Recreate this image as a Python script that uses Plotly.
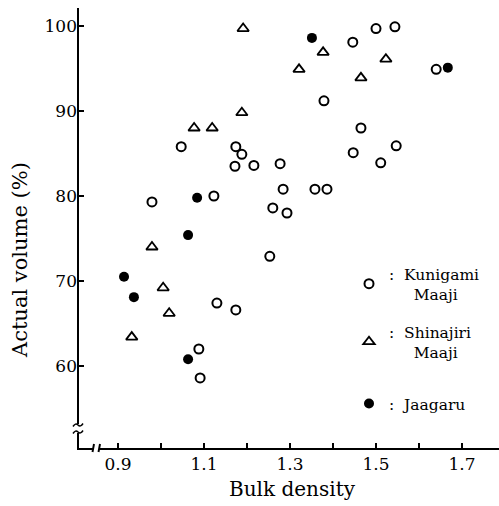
import plotly.graph_objects as go

# ---- data ----
kunigami_x = [1.047, 1.174, 1.188, 1.172, 1.216, 0.979, 1.123, 1.500, 1.544, 1.446,
              1.640, 1.379, 1.465, 1.547, 1.447, 1.511, 1.277, 1.284, 1.358, 1.386,
              1.260, 1.293, 1.253, 1.130, 1.174, 1.088, 1.091]
kunigami_y = [85.8, 85.8, 84.9, 83.5, 83.6, 79.3, 80.0, 99.7, 99.9, 98.1,
              94.9, 91.2, 88.0, 85.9, 85.1, 83.9, 83.8, 80.8, 80.8, 80.8,
              78.6, 78.0, 72.9, 67.4, 66.6, 62.0, 58.6]

shinajiri_x = [1.191, 1.188, 1.077, 1.119, 0.979, 1.377, 1.321, 1.523, 1.465, 1.005, 1.019, 0.932]
shinajiri_y = [99.7, 89.8, 88.0, 88.0, 74.0, 96.9, 94.9, 96.1, 93.9, 69.2, 66.2, 63.4]

jaagaru_x = [1.351, 1.667, 1.084, 1.063, 0.914, 0.937, 1.063]
jaagaru_y = [98.6, 95.1, 79.8, 75.4, 70.5, 68.1, 60.8]

x_tickvals = [0.9, 1.0, 1.1, 1.2, 1.3, 1.4, 1.5, 1.6, 1.7]
x_ticktext = ["0.9", "", "1.1", "", "1.3", "", "1.5", "", "1.7"]
y_tickvals = [60, 70, 80, 90, 100]

FONT = "DejaVu Serif"
W, H = 499, 506
ML, MT, MR, MB = 78, 8, 0, 57
PW, PH = W - ML - MR, H - MT - MB

def P(px, py):
    return (px - ML) / PW, (H - MB - py) / PH

fig = go.Figure()
fig.add_trace(go.Scatter(
    x=kunigami_x, y=kunigami_y, mode="markers",
    name=":&nbsp;&nbsp;Kunigami<br>&nbsp;&nbsp;&nbsp;&nbsp;&nbsp;Maaji", legend="legend",
    marker=dict(symbol="circle-open", size=9, color="black", line=dict(width=2, color="black")),
))
fig.add_trace(go.Scatter(
    x=shinajiri_x, y=shinajiri_y, mode="markers",
    name=":&nbsp;&nbsp;Shinajiri<br>&nbsp;&nbsp;&nbsp;&nbsp;&nbsp;Maaji", legend="legend2",
    marker=dict(symbol="triangle-up-open", size=10, color="black", line=dict(width=1.8, color="black")),
))
fig.add_trace(go.Scatter(
    x=jaagaru_x, y=jaagaru_y, mode="markers",
    name=":&nbsp;&nbsp;Jaagaru", legend="legend3",
    marker=dict(symbol="circle", size=10, color="black"),
))

# axis lines with break marks
shapes = []
def seg(a, b):
    (x0, y0), (x1, y1) = P(*a), P(*b)
    shapes.append(dict(type="line", xref="paper", yref="paper", x0=x0, y0=y0, x1=x1, y1=y1,
                       line=dict(color="black", width=2)))

def tilde(px, py):
    pts = [P(px - 5, py + 1.5), P(px - 2.5, py - 2.5), P(px, py), P(px + 2.5, py + 2.5), P(px + 5, py - 1.5)]
    path = "M{},{} Q{},{} {},{} Q{},{} {},{}".format(
        pts[0][0], pts[0][1], pts[1][0], pts[1][1], pts[2][0], pts[2][1],
        pts[3][0], pts[3][1], pts[4][0], pts[4][1])
    shapes.append(dict(type="path", xref="paper", yref="paper", path=path,
                       line=dict(color="black", width=1.5)))

seg((78, 8), (78, 424))
tilde(78, 425)
tilde(78, 432)
seg((78, 433), (78, 449))
seg((77, 449), (93, 449))
seg((92.5, 452), (94, 444))
seg((98.5, 452), (100, 444))
seg((99, 449), (499, 449))

legend_common = dict(xanchor="left", yanchor="top", bgcolor="rgba(0,0,0,0)",
                     font=dict(family=FONT, size=15.5, color="black"),
                     itemwidth=30, valign="middle")

fig.update_layout(
    width=W, height=H,
    margin=dict(l=ML, r=MR, t=MT, b=MB, pad=0),
    paper_bgcolor="white", plot_bgcolor="white",
    font=dict(family=FONT, color="black", size=17),
    shapes=shapes,
    showlegend=True,
    legend=dict(x=P(349, 0)[0], y=P(0, 257)[1], **legend_common),
    legend2=dict(x=P(349, 0)[0], y=P(0, 315)[1], **legend_common),
    legend3=dict(x=P(349, 0)[0], y=P(0, 387)[1], **legend_common),
    xaxis=dict(range=[0.9 - 40 / 430, 0.9 + 381 / 430], showgrid=False, zeroline=False,
               showline=False, tickmode="array", tickvals=x_tickvals, ticktext=x_ticktext,
               ticks="inside", ticklen=6, tickwidth=2, tickcolor="black",
               ticklabelstandoff=3, tickfont=dict(family=FONT, size=17)),
    yaxis=dict(range=[100 - 423 / 8.5, 100 + 18 / 8.5], showgrid=False, zeroline=False,
               showline=False, tickmode="array", tickvals=y_tickvals,
               ticks="inside", ticklen=6, tickwidth=2, tickcolor="black",
               tickfont=dict(family=FONT, size=17)),
    annotations=[
        dict(text="Bulk density", xref="paper", yref="paper", x=P(292, 0)[0], y=P(0, 489)[1],
             showarrow=False, xanchor="center", yanchor="middle", font=dict(family=FONT, size=20)),
        dict(text="Actual volume (%)", xref="paper", yref="paper", x=P(20, 0)[0], y=P(0, 260)[1],
             showarrow=False, xanchor="center", yanchor="middle", textangle=-90,
             font=dict(family=FONT, size=21)),
    ],
)

fig.write_html("out.html")
